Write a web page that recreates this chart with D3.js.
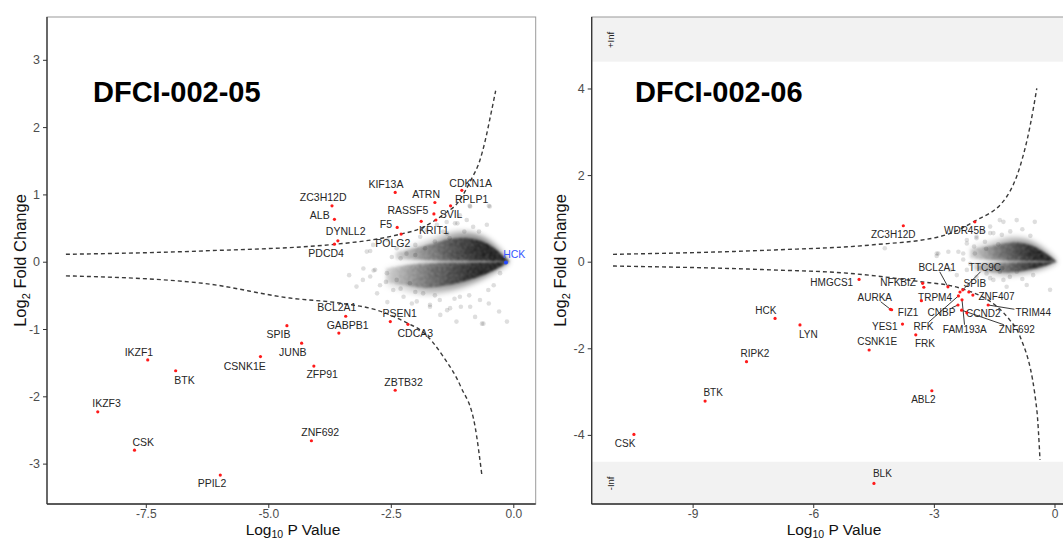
<!DOCTYPE html>
<html>
<head>
<meta charset="utf-8">
<script src="https://cdn.jsdelivr.net/npm/d3@7"></script>
<style>
body { margin: 0; background: #fff; }
text { font-family: "Liberation Sans", Arial, sans-serif; }
</style>
</head>
<body>
<svg id="chart" width="1063" height="539"></svg>
<script>
// ---- data: [gene, log10 p, log2 fold change] ----
var leftGenes = [
  ["ZC3H12D", -3.70, 0.83], ["ALB", -3.65, 0.63], ["DYNLL2", -3.58, 0.31], ["PDCD4", -3.65, 0.26],
  ["KIF13A", -2.41, 1.03], ["F5", -2.37, 0.51], ["POLG2", -2.29, 0.41], ["ATRN", -1.60, 0.88],
  ["RASSF5", -1.62, 0.71], ["KRIT1", -1.88, 0.60], ["SVIL", -1.58, 0.62], ["RPLP1", -1.28, 0.83],
  ["CDKN1A", -1.05, 1.06], ["HCK", -0.15, -0.01], ["BCL2A1", -3.42, -0.81], ["GABPB1", -3.56, -1.06],
  ["PSEN1", -2.51, -0.89], ["CDCA3", -2.15, -0.93], ["SPIB", -4.62, -0.95], ["JUNB", -4.32, -1.21],
  ["CSNK1E", -5.16, -1.41], ["ZFP91", -4.07, -1.55], ["IKZF1", -7.46, -1.46], ["BTK", -6.89, -1.62],
  ["ZBTB32", -2.41, -1.91], ["IKZF3", -8.48, -2.23], ["ZNF692", -4.12, -2.66], ["CSK", -7.73, -2.80],
  ["PPIL2", -5.98, -3.17]
];
var rightGenes = [
  ["ZC3H12D", -3.76, 0.83], ["WDR45B", -1.98, 0.92], ["HMGCS1", -4.86, -0.41], ["NFKBIZ", -3.28, -0.50],
  ["TRPM4", -3.31, -0.90], ["AURKA", -4.08, -1.10], ["FIZ1", -4.05, -1.11], ["YES1", -3.78, -1.44],
  ["CSNK1E", -4.61, -2.04], ["FRK", -3.45, -1.69], ["HCK", -6.95, -1.31], ["LYN", -6.33, -1.46],
  ["RIPK2", -7.66, -2.31], ["BTK", -8.69, -3.22], ["ABL2", -3.05, -2.98], ["CSK", -10.46, -3.99],
  ["BLK", -4.49, -Infinity], ["BCL2A1", -2.65, -0.58], ["TTC9C", -2.28, -0.65], ["SPIB", -2.35, -0.70],
  ["ZNF407", -2.03, -0.77], ["RFK", -2.39, -0.79], ["CNBP", -2.40, -1.00], ["FAM193A", -2.30, -0.88],
  ["ZNF692", -2.31, -1.12], ["CCND2", -2.18, -1.18], ["TRIM44", -1.65, -1.00],
  ["", -3.25, -0.59], ["", -2.13, -0.70]
];

// where the repelled labels ended up (data units)
var leftLabelAt = {
  ZC3H12D: [-3.88, 0.95], ALB: [-3.95, 0.69], DYNLL2: [-3.42, 0.45], PDCD4: [-3.82, 0.13],
  KIF13A: [-2.60, 1.15], F5: [-2.60, 0.55], POLG2: [-2.46, 0.27], ATRN: [-1.78, 1.00],
  RASSF5: [-2.15, 0.77], KRIT1: [-1.62, 0.47], SVIL: [-1.27, 0.70], RPLP1: [-0.85, 0.92],
  CDKN1A: [-0.87, 1.17], HCK: [0.02, 0.11], BCL2A1: [-3.60, -0.68], GABPB1: [-3.38, -0.94],
  PSEN1: [-2.32, -0.77], CDCA3: [-2.00, -1.06], SPIB: [-4.79, -1.08], JUNB: [-4.50, -1.35],
  CSNK1E: [-5.48, -1.55], ZFP91: [-3.90, -1.68], IKZF1: [-7.64, -1.34], BTK: [-6.71, -1.76],
  ZBTB32: [-2.24, -1.79], IKZF3: [-8.30, -2.10], ZNF692: [-3.94, -2.54], CSK: [-7.55, -2.69],
  PPIL2: [-6.15, -3.30]
};
var rightLabelAt = {
  ZC3H12D: [-4.01, 0.62], WDR45B: [-2.23, 0.72], HMGCS1: [-5.54, -0.48], NFKBIZ: [-3.89, -0.49],
  TRPM4: [-2.97, -0.82], AURKA: [-4.47, -0.82], FIZ1: [-3.64, -1.17], YES1: [-4.22, -1.50],
  CSNK1E: [-4.41, -1.85], FRK: [-3.22, -1.88], HCK: [-7.18, -1.12], LYN: [-6.12, -1.67],
  RIPK2: [-7.45, -2.12], BTK: [-8.49, -3.03], ABL2: [-3.26, -3.18], CSK: [-10.68, -4.19],
  BLK: [-4.28, -4.90], BCL2A1: [-2.92, -0.13], TTC9C: [-1.73, -0.13], SPIB: [-1.98, -0.50],
  ZNF407: [-1.44, -0.81], RFK: [-3.26, -1.50], CNBP: [-2.81, -1.17], FAM193A: [-2.23, -1.56],
  ZNF692: [-0.94, -1.56], CCND2: [-1.77, -1.19], TRIM44: [-0.53, -1.17]
};
var rightSegments = ["AURKA", "BCL2A1", "TTC9C", "RFK", "FAM193A", "ZNF692", "TRIM44", "CNBP", "CCND2"];

// background genes (sparse part of the cloud)
var leftCloud = [
  [-2.99, 0.15], [-2.86, 0.25], [-2.48, 0.07], [-2.38, 0.20], [-2.18, 0.12], [-2.00, 0.25], [-1.90, 0.37],
  [-1.77, 0.47], [-1.56, 0.55], [-1.36, 0.59], [-1.19, 0.57], [-0.95, 0.62], [-0.82, 0.52], [-0.54, 0.55],
  [-1.09, 0.69], [-0.48, 0.82], [-0.88, 0.82], [-1.43, 0.45], [-3.06, -0.10], [-2.92, -0.22], [-2.82, -0.12],
  [-2.72, -0.35], [-2.58, -0.17], [-2.45, -0.42], [-2.38, -0.27], [-2.24, -0.52], [-2.11, -0.32], [-1.97, -0.59],
  [-1.84, -0.47], [-1.70, -0.64], [-1.50, -0.57], [-1.29, -0.69], [-1.09, -0.52], [-0.88, -0.67], [-0.68, -0.57],
  [-0.51, -0.42], [-0.27, -0.17], [-0.61, -0.92], [-0.13, -0.89], [-1.16, -0.89], [-3.35, -0.20], [-3.20, -0.37],
  [-3.07, -0.27], [-2.78, -0.47], [-2.57, -0.60], [-2.07, -0.62], [-1.70, -0.67], [-1.49, -0.79], [-1.35, -0.72],
  [-1.07, -0.67], [-0.78, -0.82], [-0.64, -0.92], [-0.50, -0.62], [-0.29, -0.74], [-2.85, -0.13], [-2.92, 0.16],
  [-2.57, 0.33], [-1.14, 0.57], [-0.89, 0.83], [-0.50, 0.83], [-1.35, 0.42], [-2.30, 0.05], [-2.00, 0.10],
  [-1.80, 0.20], [-1.60, 0.30], [-1.30, 0.35], [-1.00, 0.45], [-0.70, 0.45], [-2.60, -0.30], [-2.30, -0.40],
  [-2.00, -0.45], [-1.60, -0.50], [-1.20, -0.55], [-0.90, -0.50], [-0.40, -0.35]
];
var rightCloud = [
  [-1.27, 0.92], [-0.94, 0.96], [-0.49, 0.92], [-1.60, 0.81], [-1.77, 0.69], [-1.94, 0.54], [-2.18, 0.42],
  [-2.39, 0.23], [-2.64, 0.23], [-2.93, 0.13], [-2.27, 0.05], [-2.60, -0.19], [-2.43, -0.31], [-2.18, -0.19],
  [-1.94, -0.35], [-1.69, -0.27], [-1.52, -0.42], [-1.36, -0.23], [-1.11, -0.35], [-0.94, -0.23], [-1.52, 0.66],
  [-1.73, 0.46], [-2.27, 0.19], [-1.98, 0.19], [-1.85, -0.15], [-1.60, -0.38], [-1.27, -0.42], [-0.53, -0.31],
  [-0.69, -0.54], [-1.19, -0.58], [-4.22, 0.31], [-2.93, 0.19], [-1.36, 0.96], [-2.89, 0.19], [-2.18, 0.50],
  [-1.94, 0.58], [-1.60, 0.66], [-1.31, 0.62], [-0.11, -0.65], [-1.40, 0.40], [-1.10, 0.70], [-0.80, 0.75],
  [-0.60, 0.60], [-1.70, 0.30], [-2.00, 0.35], [-1.30, -0.15], [-0.80, -0.40], [-2.10, -0.05]
];

// dense core of the cloud: [log10 p, upper edge, lower edge]
var leftCoreUp = [[-2.4, 0.16, 0.04], [-1.77, 0.29, 0.02], [-1.43, 0.40, 0.015], [-1.09, 0.45, 0.012],
  [-0.75, 0.42, 0.012], [-0.41, 0.29, 0.01], [-0.08, 0.0, 0.0]];
var leftCoreLo = [[-2.6, -0.10, -0.36], [-2.1, -0.04, -0.45], [-1.77, -0.02, -0.49], [-1.43, -0.015, -0.45],
  [-1.09, -0.012, -0.39], [-0.75, -0.012, -0.29], [-0.41, -0.01, -0.17], [-0.08, 0.0, 0.0]];
var rightCoreUp = [[-2.1, 0.34, 0.08], [-1.52, 0.46, 0.03], [-1.11, 0.57, 0.02], [-0.69, 0.53, 0.015],
  [-0.28, 0.31, 0.012], [0.06, 0.0, 0.0]];
var rightCoreLo = [[-2.0, -0.05, -0.22], [-1.52, -0.03, -0.31], [-1.11, -0.02, -0.32], [-0.69, -0.015, -0.25],
  [-0.28, -0.012, -0.15], [0.06, 0.0, 0.0]];

// significance thresholds (dashed)
var leftUpper = [[-9.13, 0.11], [-6.34, 0.16], [-3.49, 0.27], [-2.42, 0.39], [-1.85, 0.51], [-1.39, 0.72],
  [-1.14, 0.87], [-0.86, 1.22], [-0.68, 1.51], [-0.57, 1.81], [-0.47, 2.15], [-0.36, 2.54]];
var leftLower = [[-9.13, -0.21], [-6.34, -0.32], [-4.56, -0.54], [-3.49, -0.62], [-2.78, -0.72], [-2.14, -0.92],
  [-1.85, -1.04], [-1.43, -1.41], [-1.07, -1.86], [-0.78, -2.45], [-0.64, -3.18]];
var rightUpper = [[-10.98, 0.17], [-7.0, 0.27], [-4.51, 0.39], [-2.85, 0.58], [-2.02, 0.92], [-1.19, 1.50],
  [-0.86, 2.19], [-0.61, 3.12], [-0.44, 4.0]];
var rightLower = [[-10.98, -0.10], [-7.0, -0.19], [-5.09, -0.27], [-3.43, -0.45], [-2.35, -0.61], [-1.11, -1.35],
  [-0.86, -1.72], [-0.44, -3.42], [-0.36, -4.58]];

var leftXTicks = [-7.5, -5, -2.5, 0], leftXLabels = ["-7.5", "-5.0", "-2.5", "0.0"];
var leftYTicks = [-3, -2, -1, 0, 1, 2, 3], leftYLabels = ["-3", "-2", "-1", "0", "1", "2", "3"];
var rightXTicks = [-9, -6, -3, 0], rightXLabels = ["-9", "-6", "-3", "0"];
var rightYTicks = [-4, -2, 0, 2, 4], rightYLabels = ["-4", "-2", "0", "2", "4"];

var svg = d3.select("#chart");
var defs = svg.append("defs");
// grainy look for the overplotted core, soft halo around it
var grain = defs.append("filter").attr("id", "grain").attr("x", "-10%").attr("y", "-30%")
  .attr("width", "120%").attr("height", "160%");
grain.append("feTurbulence").attr("type", "fractalNoise").attr("baseFrequency", 0.7)
  .attr("numOctaves", 2).attr("seed", 7).attr("result", "n");
grain.append("feColorMatrix").attr("in", "n").attr("type", "matrix")
  .attr("values", "0 0 0 0 0  0 0 0 0 0  0 0 0 0 0  0 0 0 1.6 -0.1").attr("result", "na");
grain.append("feComposite").attr("in", "SourceGraphic").attr("in2", "na").attr("operator", "in").attr("result", "c");
grain.append("feGaussianBlur").attr("in", "c").attr("stdDeviation", 1.1);
defs.append("filter").attr("id", "halo").attr("x", "-20%").attr("y", "-60%").attr("width", "140%").attr("height", "220%")
  .append("feGaussianBlur").attr("stdDeviation", 3);

function drawPanel(p) {
  var x = d3.scaleLinear().domain(p.xDom).range([p.left, p.right]);
  var y = d3.scaleLinear().domain(p.yDom).range([p.bottom, p.top]);
  var yOf = function(v) { return v === -Infinity ? y(-p.infMid) : v === Infinity ? y(p.infMid) : y(v); };

  defs.append("clipPath").attr("id", "clip-" + p.id)
    .append("rect").attr("x", p.left).attr("y", p.top)
    .attr("width", p.right - p.left).attr("height", p.bottom - p.top);

  var g = svg.append("g");
  var body = g.append("g").attr("clip-path", "url(#clip-" + p.id + ")");

  if (p.infMid) {
    body.append("rect").attr("x", p.left).attr("y", y(p.yDom[1]))
      .attr("width", p.right - p.left).attr("height", y(p.infEdge) - y(p.yDom[1])).attr("fill", "#f2f2f2");
    body.append("rect").attr("x", p.left).attr("y", y(-p.infEdge))
      .attr("width", p.right - p.left).attr("height", y(p.yDom[0]) - y(-p.infEdge)).attr("fill", "#f2f2f2");
    [["+Inf", p.infMid], ["-Inf", -p.infMid]].forEach(function(d) {
      body.append("text").attr("transform", "translate(" + (p.left + 19) + "," + y(d[1]) + ") rotate(-90)")
        .attr("text-anchor", "middle").attr("dy", "0.35em").attr("font-size", 9.5).attr("fill", "#222").text(d[0]);
    });
  }

  // dense core of background genes: blurred halo + grainy inner part
  var area = d3.area().curve(d3.curveBasis)
    .x(function(d) { return x(d[0]); })
    .y0(function(d) { return y(d[2]); })
    .y1(function(d) { return y(d[1]); });
  [p.coreUp, p.coreLo].forEach(function(core, i) {
    var gid = "grad-" + p.id + i;
    var gr = defs.append("linearGradient").attr("id", gid).attr("gradientUnits", "userSpaceOnUse")
      .attr("x1", x(core[0][0])).attr("x2", x(core[core.length - 1][0])).attr("y1", 0).attr("y2", 0);
    gr.append("stop").attr("offset", "0").attr("stop-color", "#000").attr("stop-opacity", 0.14);
    gr.append("stop").attr("offset", "0.4").attr("stop-color", "#000").attr("stop-opacity", 0.56);
    gr.append("stop").attr("offset", "0.75").attr("stop-color", "#000").attr("stop-opacity", 0.92);
    gr.append("stop").attr("offset", "1").attr("stop-color", "#000").attr("stop-opacity", 1);
    // pull the outer edge in so the halo carries the soft border
    var shrink = function(d) {
      return i === 0 ? [d[0], d[2] + (d[1] - d[2]) * 0.8, d[2]] : [d[0], d[1], d[1] + (d[2] - d[1]) * 0.8];
    };
    body.append("path").datum(core).attr("d", area).attr("fill", "url(#" + gid + ")")
      .attr("opacity", 0.55).attr("filter", "url(#halo)");
    body.append("path").datum(core.map(shrink)).attr("d", area).attr("fill", "url(#" + gid + ")")
      .attr("filter", "url(#grain)");
  });

  body.selectAll("circle.bg").data(p.cloud).enter().append("circle")
    .attr("cx", function(d) { return x(d[0]); }).attr("cy", function(d) { return y(d[1]); })
    .attr("r", 2.3).attr("fill", "#000").attr("fill-opacity", 0.13);

  var line = d3.line().curve(d3.curveMonotoneX)
    .x(function(d) { return x(d[0]); }).y(function(d) { return y(d[1]); });
  [p.upper, p.lower].forEach(function(c) {
    body.append("path").datum(c).attr("d", line).attr("fill", "none")
      .attr("stroke", "#3a3a3a").attr("stroke-width", 1.4).attr("stroke-dasharray", "4,3");
  });

  // gene labels and repel segments
  var labels = body.append("g");
  var segs = body.append("g");
  p.genes.forEach(function(d) {
    if (!d[0] || !p.labelAt[d[0]]) return;
    var at = p.labelAt[d[0]];
    var col = d[0] === p.blue ? "#3656ff" : "#262626";
    var t = labels.append("text").attr("x", x(at[0])).attr("y", y(at[1]))
      .attr("text-anchor", "middle").attr("dy", "0.35em")
      .attr("font-size", p.labelSize).attr("fill", col).text(d[0]);
    if (p.segments.indexOf(d[0]) >= 0) {
      var bb = t.node().getBBox();
      var cx = bb.x + bb.width / 2, cy = bb.y + bb.height / 2;
      var px = x(d[1]), py = yOf(d[2]);
      var dx = px - cx, dy = py - cy;
      var tt = Math.min((bb.width / 2 + 1) / Math.abs(dx || 1e-6), (bb.height / 2 - 1) / Math.abs(dy || 1e-6));
      if (tt < 1) {
        segs.append("line").attr("x1", cx + dx * tt).attr("y1", cy + dy * tt).attr("x2", px).attr("y2", py)
          .attr("stroke", "#222").attr("stroke-width", 0.9);
      }
    }
  });

  body.selectAll("circle.gene").data(p.genes).enter().append("circle")
    .attr("cx", function(d) { return x(d[1]); }).attr("cy", function(d) { return yOf(d[2]); })
    .attr("r", function(d) { return d[0] === p.blue ? 2 : 1.6; })
    .attr("fill", function(d) { return d[0] === p.blue ? "#2348ff" : "#ff1a1a"; });

  // frame
  g.append("rect").attr("x", p.left).attr("y", p.top).attr("width", p.right - p.left).attr("height", p.bottom - p.top)
    .attr("fill", "none").attr("stroke", "#9a9a9a").attr("stroke-width", 1);

  var xAxis = d3.axisBottom(x).tickValues(p.xTicks).tickSize(4).tickPadding(1.5)
    .tickFormat(function(d, i) { return p.xLabels[i]; });
  var yAxis = d3.axisLeft(y).tickValues(p.yTicks).tickSize(4).tickPadding(3)
    .tickFormat(function(d, i) { return p.yLabels[i]; });
  var ax = g.append("g").attr("transform", "translate(0," + p.bottom + ")").call(xAxis);
  var ay = g.append("g").attr("transform", "translate(" + p.left + ",0)").call(yAxis);
  [ax, ay].forEach(function(a) {
    a.select(".domain").remove();
    a.selectAll(".tick line").attr("stroke", "#333");
    a.selectAll(".tick text").attr("fill", "#4d4d4d").attr("font-size", 12.5)
      .attr("font-family", "Liberation Sans, Arial, sans-serif");
  });
  ax.selectAll(".tick text").attr("font-size", 12);
  g.append("line").attr("x1", p.left).attr("x2", p.right).attr("y1", p.bottom).attr("y2", p.bottom)
    .attr("stroke", "#333").attr("stroke-width", 1.3);
  g.append("line").attr("x1", p.left).attr("x2", p.left).attr("y1", p.top).attr("y2", p.bottom)
    .attr("stroke", "#333").attr("stroke-width", 1.3);

  // axis titles
  var xt = g.append("text").attr("x", p.xTitleX).attr("y", 535).attr("text-anchor", "middle")
    .attr("font-size", 15.5).attr("fill", "#111");
  xt.append("tspan").text("Log");
  xt.append("tspan").attr("font-size", 10.5).attr("dy", 2.5).text("10");
  xt.append("tspan").attr("dy", -2.5).text(" P Value");
  var yt = g.append("text").attr("transform", "translate(" + p.yTitleX + "," + ((p.top + p.bottom) / 2) + ") rotate(-90)")
    .attr("text-anchor", "middle").attr("dy", "0.35em").attr("font-size", 16.5).attr("fill", "#111");
  yt.append("tspan").text("Log");
  yt.append("tspan").attr("font-size", 11).attr("dy", 4).text("2");
  yt.append("tspan").attr("dy", -4).text(" Fold Change");

  g.append("text").attr("x", p.titleX).attr("y", 102).attr("font-size", 29).attr("font-weight", "bold")
    .attr("fill", "#000").text(p.title);
}

drawPanel({
  id: "a", title: "DFCI-002-05", left: 47, right: 535.7, top: 17, bottom: 504,
  xDom: [-9.516, 0.457], yDom: [-3.600, 3.636],
  xTicks: leftXTicks, xLabels: leftXLabels, yTicks: leftYTicks, yLabels: leftYLabels,
  genes: leftGenes, labelAt: leftLabelAt, segments: [], blue: "HCK", labelSize: 10.5,
  cloud: leftCloud, coreUp: leftCoreUp, coreLo: leftCoreLo, upper: leftUpper, lower: leftLower,
  titleX: 93, xTitleX: 293, yTitleX: 20
});
drawPanel({
  id: "b", title: "DFCI-002-06", left: 591.7, right: 1076, top: 17, bottom: 504,
  xDom: [-11.51, 0.535], yDom: [-5.596, 5.651], infEdge: 4.62, infMid: 5.12,
  xTicks: rightXTicks, xLabels: rightXLabels, yTicks: rightYTicks, yLabels: rightYLabels,
  genes: rightGenes, labelAt: rightLabelAt, segments: rightSegments, blue: null, labelSize: 10,
  cloud: rightCloud, coreUp: rightCoreUp, coreLo: rightCoreLo, upper: rightUpper, lower: rightLower,
  titleX: 635, xTitleX: 834, yTitleX: 560
});
</script>
</body>
</html>
